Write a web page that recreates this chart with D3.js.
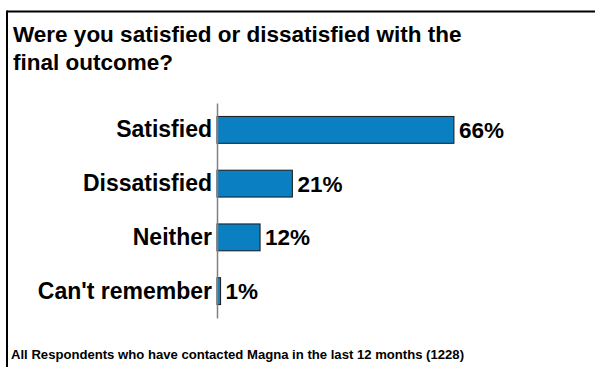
<!DOCTYPE html>
<html>
<head>
<meta charset="utf-8">
<script src="https://cdn.jsdelivr.net/npm/d3@7"></script>
<style>
  html, body { margin: 0; padding: 0; background: #fff; }
  svg { display: block; }
  text { font-family: Arial, "Liberation Sans", Helvetica, sans-serif; font-weight: bold; fill: #000; }
</style>
</head>
<body>
<svg id="chart" width="595" height="367"></svg>
<script>
// Survey answers and their shares (percent)
const categories = ["Satisfied", "Dissatisfied", "Neither", "Can't remember"];
const values = [66, 21, 12, 1];
const titleLines = ["Were you satisfied or dissatisfied with the", "final outcome?"];
const footnote = "All Respondents who have contacted Magna in the last 12 months (1228)";

const svg = d3.select("#chart");
const W = 595, H = 367;

// Frame: top and left rules
svg.append("line").attr("x1", 7).attr("x2", W).attr("y1", 11.5).attr("y2", 11.5)
  .attr("stroke", "#000").attr("stroke-width", 2);
svg.append("line").attr("x1", 7).attr("x2", 7).attr("y1", 10.5).attr("y2", H)
  .attr("stroke", "#000").attr("stroke-width", 2);

// Title
svg.append("g").selectAll("text").data(titleLines).join("text")
  .attr("x", 13).attr("y", (d, i) => 42 + i * 28)
  .style("font-size", "22.5px")
  .text(d => d);

// Scales
const x0 = 217;
const x = d3.scaleLinear().domain([0, 100]).range([x0, x0 + 359]);
const y = d3.scaleBand().domain(categories).range([103, 318]).paddingInner(0.5).paddingOuter(0.25);

// Bars
svg.append("g").selectAll("rect").data(values).join("rect")
  .attr("x", x(0))
  .attr("y", (d, i) => y(categories[i]))
  .attr("width", d => x(d) - x(0))
  .attr("height", y.bandwidth())
  .attr("fill", "#0a7fc1")
  .attr("stroke", "#1a1a1a")
  .attr("stroke-width", 1);

// Category axis (line only, labels drawn beside it)
const axis = d3.axisLeft(y).tickSize(0).tickPadding(5);
const ag = svg.append("g").attr("transform", `translate(${x0},0)`).call(axis);
ag.select(".domain").attr("stroke", "#808080").attr("stroke-width", 1.5);
ag.selectAll("text")
  .attr("fill", "#000")
  .style("font-family", "Arial, 'Liberation Sans', Helvetica, sans-serif")
  .style("font-weight", "bold")
  .style("font-size", "23px");

// Value labels
svg.append("g").selectAll("text").data(values).join("text")
  .attr("x", d => x(d) + 5)
  .attr("y", (d, i) => y(categories[i]) + y.bandwidth() / 2)
  .attr("dy", "0.35em")
  .style("font-size", "22.5px")
  .text(d => d + "%");

// Footnote
svg.append("text").attr("x", 11).attr("y", 359)
  .style("font-size", "12px")
  .attr("textLength", 453)
  .attr("lengthAdjust", "spacingAndGlyphs")
  .text(footnote);
</script>
</body>
</html>
